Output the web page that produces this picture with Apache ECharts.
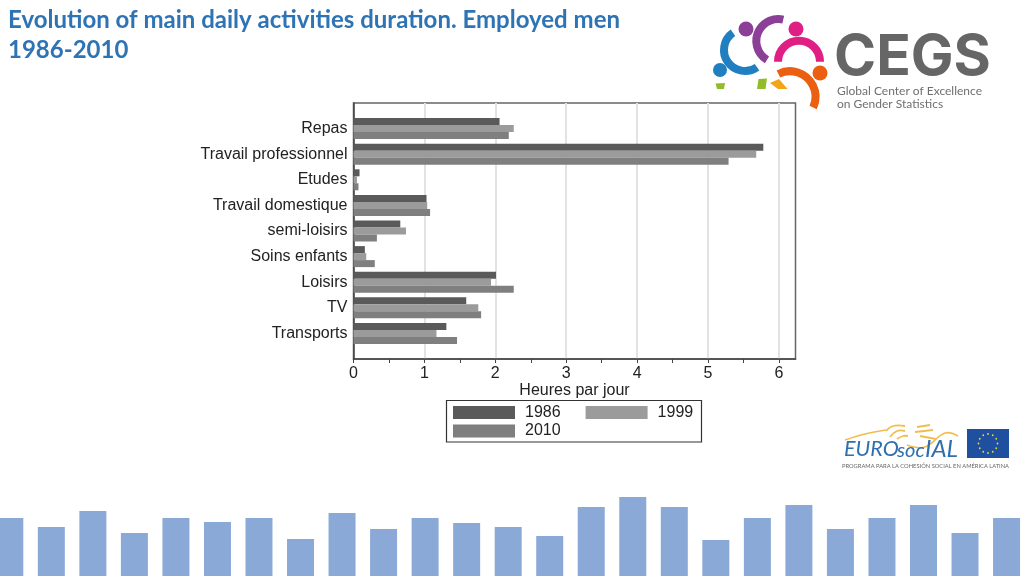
<!DOCTYPE html>
<html><head><meta charset="utf-8">
<script src="https://cdn.jsdelivr.net/npm/echarts@6/dist/echarts.min.js"></script>
<style>html,body{margin:0;padding:0;background:#fff}#c{width:1024px;height:576px}</style>
</head><body><div id="c"></div>
<script>
// blank first/last entries reproduce the empty margin above and below the bars
const categories = ['', 'Repas', 'Travail professionnel', 'Etudes', 'Travail domestique', 'semi-loisirs', 'Soins enfants', 'Loisirs', 'TV', 'Transports', ''];
const v1986 = [null, 2.06, 5.78, 0.085, 1.03, 0.66, 0.16, 2.01, 1.59, 1.31, null];
const v1999 = [null, 2.26, 5.68, 0.05, 1.04, 0.74, 0.18, 1.94, 1.76, 1.17, null];
const v2010 = [null, 2.19, 5.29, 0.07, 1.08, 0.33, 0.30, 2.26, 1.80, 1.46, null];
const tickValues = [0, 0.5, 1, 1.5, 2, 2.5, 3, 3.5, 4, 4.5, 5, 5.5, 6];
const bandValues = [58, 49, 65, 43, 58, 54, 58, 37, 63, 47, 58, 53, 49, 40, 69, 79, 69, 36, 58, 71, 47, 58, 71, 43, 58];
const bandData = bandValues.map((v, i) => [i, v]);

const gray = '#666666';
const txt = '#222222';
const font = '"Liberation Sans", Arial, sans-serif';

function arc(cx, cy, r, a0, a1, color, lw) {
  const d = Math.PI / 180;
  return { type: 'arc', silent: true, shape: { cx, cy, r, startAngle: a0 * d, endAngle: a1 * d, clockwise: true },
    style: { stroke: color, lineWidth: lw, fill: null, lineCap: 'butt' } };
}
function dot(cx, cy, r, color) {
  return { type: 'circle', silent: true, shape: { cx, cy, r }, style: { fill: color } };
}
function poly(points, color) {
  return { type: 'polygon', silent: true, shape: { points }, style: { fill: color } };
}
function line(points, color, lw) {
  return { type: 'polyline', silent: true, shape: { points, smooth: 0.4 }, style: { stroke: color, lineWidth: lw, fill: null } };
}
function label(x, y, text, size, color, weight, family, extra) {
  return { type: 'text', silent: true, x, y, style: Object.assign({ text, fill: color, font: `${weight} ${size}px ${family}`, textVerticalAlign: 'middle' }, extra || {}) };
}

const stars = [];
for (let i = 0; i < 12; i++) {
  const t = i * Math.PI / 6;
  stars.push(dot(988 + 9.5 * Math.cos(t), 443.5 + 9.5 * Math.sin(t), 0.9, '#f2d23c'));
}

const logos = [
  arc(745, 50, 21, 55, 235, '#1f7fc1', 8),
  dot(720, 70, 7, '#1f7fc1'),
  arc(778.3, 41, 22, 121, 283, '#8c3f97', 8),
  dot(746, 29, 7.5, '#8c3f97'),
  arc(799, 61.7, 21, 180, 360, '#e01f85', 8),
  dot(796, 29, 7.5, '#e01f85'),
  arc(790, 96.7, 25.5, 243, 385, '#ea5f12', 8),
  dot(820, 73, 7.5, '#ea5f12'),
  poly([[715.5, 83.5], [725, 83], [724, 89], [717, 89]], '#93bd28'),
  poly([[758.5, 79], [767, 78.5], [765.5, 89], [757, 89]], '#93bd28'),
  poly([[770, 83], [779, 79], [787.5, 89], [778, 89]], '#f2a516'),
  label(834, 58, 'CEGS', 57, '#666666', 'bold', 'Inter, sans-serif'),
  label(837, 91, 'Global Center of Excellence', 12, '#6f6f6f', 'normal', 'Lato, sans-serif'),
  label(837, 104, 'on Gender Statistics', 12, '#6f6f6f', 'normal', 'Lato, sans-serif'),
  line([[845, 440], [865, 434], [886, 430]], '#efbe4e', 1.5),
  line([[886, 431], [893, 426], [905, 426]], '#efbe4e', 1.8),
  line([[890, 437], [897, 431], [905, 431]], '#efbe4e', 1.8),
  line([[897, 439], [903, 436], [908, 436]], '#efbe4e', 1.8),
  line([[917, 427], [930, 425]], '#efbe4e', 1.8),
  line([[915, 432], [933, 430]], '#efbe4e', 1.8),
  line([[920, 436], [936, 439]], '#efbe4e', 1.8),
  line([[907, 445], [925, 447], [945, 433], [958, 436]], '#efbe4e', 1.6),
  label(844, 449, 'EURO', 21.5, '#2f6fae', 'italic', 'Lato, sans-serif'),
  label(897, 451, 'soc', 20, '#2f6fae', 'italic', 'Lato, sans-serif'),
  label(925, 449, 'IAL', 24, '#2f6fae', 'italic', 'Lato, sans-serif'),
  { type: 'rect', silent: true, shape: { x: 967, y: 429, width: 42, height: 29 }, style: { fill: '#1f4f9f' } },
  ...stars,
  label(842, 466, 'PROGRAMA PARA LA COHESIÓN SOCIAL EN AMÉRICA LATINA', 5.75, '#666666', 'normal', 'Lato, sans-serif'),
  { type: 'rect', silent: true, shape: { x: 446.5, y: 400.5, width: 255, height: 41.5 }, style: { fill: null, stroke: '#333333', lineWidth: 1.2 } }
];

const chart = echarts.init(document.getElementById('c'), null, { renderer: 'canvas' });
const barSeries = (name, data, color) => ({
  name, type: 'bar', data, barWidth: 7, barGap: '0%', xAxisIndex: 0, yAxisIndex: 0,
  itemStyle: { color }, silent: true, animation: false
});
chart.setOption({
  animation: false,
  backgroundColor: '#ffffff',
  title: {
    text: 'Evolution of main daily activities duration. Employed men\n1986-2010',
    left: 3, top: 0,
    textStyle: { color: '#2e74b5', fontFamily: 'Lato, sans-serif', fontWeight: 'bold', fontSize: 24, lineHeight: 30 }
  },
  grid: [
    { left: 353.5, top: 103, width: 442, height: 256, show: true, backgroundColor: '#fff', borderColor: gray, borderWidth: 1.5 },
    { left: 0, top: 480, width: 1024, height: 96, show: false }
  ],
  legend: [
    { data: ['1986', '1999'], left: 453, top: 404.5, padding: 0, itemWidth: 62, itemHeight: 13, itemGap: 25, icon: 'rect',
      textStyle: { color: txt, fontFamily: font, fontSize: 16, padding: [0, 0, 1, 5] } },
    { data: ['2010'], left: 453, top: 423, padding: 0, itemWidth: 62, itemHeight: 13, icon: 'rect',
      textStyle: { color: txt, fontFamily: font, fontSize: 16, padding: [0, 0, 1, 5] } }
  ],
  xAxis: [
    { type: 'value', gridIndex: 0, min: 0, max: 6.234, interval: 1,
      name: 'Heures par jour', nameLocation: 'middle', nameGap: 22,
      nameTextStyle: { color: txt, fontFamily: font, fontSize: 16 },
      axisLine: { show: true, lineStyle: { color: '#444', width: 1.5 } },
      axisTick: { show: false },
      axisLabel: { color: txt, fontFamily: font, fontSize: 16, margin: 7, showMaxLabel: false,
        formatter: v => (Number.isInteger(v) ? String(v) : '') },
      splitLine: { show: true, showMaxLine: false, showMinLine: false, lineStyle: { color: '#e2e2e2', width: 2 } }
    },
    { type: 'value', gridIndex: 1, min: -0.236, max: 24.42, show: false, splitLine: { show: false } },
    { type: 'value', gridIndex: 0, position: 'bottom', min: 0, max: 6.234,
      axisLine: { show: false },
      axisTick: { show: true, length: 4, customValues: tickValues, lineStyle: { color: '#444', width: 1 } },
      axisLabel: { show: false }, splitLine: { show: false }
    }
  ],
  yAxis: [
    { type: 'category', gridIndex: 0, data: categories, inverse: true, boundaryGap: false,
      axisLine: { show: true, lineStyle: { color: '#444', width: 1.5 } },
      axisTick: { show: false },
      axisLabel: { color: txt, fontFamily: font, fontSize: 16, margin: 6, interval: 0, padding: [2, 0, 0, 0] },
      splitLine: { show: false }
    },
    { type: 'value', gridIndex: 1, min: 0, max: 96, show: false }
  ],
  series: [
    barSeries('1986', v1986, '#5a5a5a'),
    barSeries('1999', v1999, '#9b9b9b'),
    barSeries('2010', v2010, '#7f7f7f'),
    { type: 'bar', data: bandData, xAxisIndex: 1, yAxisIndex: 1, silent: true, barWidth: 27, clip: true,
      itemStyle: { color: '#8aa9d7' }, animation: false }
  ],
  graphic: logos
});
</script></body></html>
